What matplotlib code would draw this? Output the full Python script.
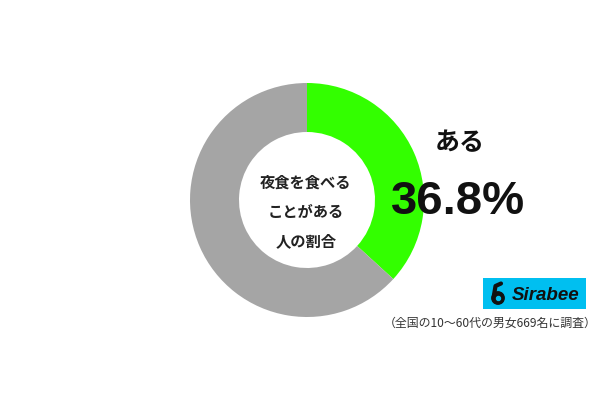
import matplotlib
matplotlib.use("Agg")
import matplotlib.pyplot as plt
from matplotlib.patches import Rectangle, Circle

plt.rcParams['font.family'] = ['Noto Sans CJK JP', 'DejaVu Sans']

labels = ["ある", "ない"]
values = [36.8, 63.2]
colors = ["#33ff00", "#a5a5a5"]
center_lines = ["夜食を食べる", "ことがある", "人の割合"]
answer_label = "ある"
answer_value = "36.8%"
note = "（全国の10～60代の男女669名に調査）"

fig = plt.figure(figsize=(6, 4), dpi=100)
ax = fig.add_axes([0, 0, 1, 1])

cx, cy, R, r = 307, 200, 117, 68
ax.pie(values, colors=colors, startangle=-90, counterclock=True,
       center=(cx, cy), radius=R, wedgeprops=dict(width=R - r, linewidth=0),
       frame=True)
ax.set_xlim(0, 600)
ax.set_ylim(400, 0)
ax.set_aspect("equal")
ax.axis("off")

for i, t in enumerate(center_lines):
    ax.text(cx - 1, 183 + i * 29, t, ha="center", va="center", fontsize=11,
            fontweight="bold", color="#222222")

ax.text(460, 143, answer_label, ha="center", va="center", fontsize=18,
        fontweight="bold", color="#111111")
ax.text(458, 202, answer_value, ha="center", va="center", fontsize=34,
        fontweight="bold", color="#111111", family="Liberation Sans")

# logo
ax.add_patch(Rectangle((483, 278), 103, 31, color="#00bff0", linewidth=0))
ax.add_patch(Circle((498, 298), 6.2, color="#111111"))
ax.add_patch(Circle((498.5, 298.5), 2.0, color="#00bff0"))
ax.plot([494, 495.5, 501], [295, 286, 283.5], color="#111111", lw=3,
        solid_capstyle="round")
ax.text(545.5, 295.5, "Sirabee", ha="center", va="center", fontsize=13.5,
        fontweight="bold", style="italic", color="#111111",
        family="Liberation Sans")

ax.text(597, 323, note, ha="right", va="center", fontsize=8.6, color="#333333")

fig.savefig("out.png", dpi=100)
